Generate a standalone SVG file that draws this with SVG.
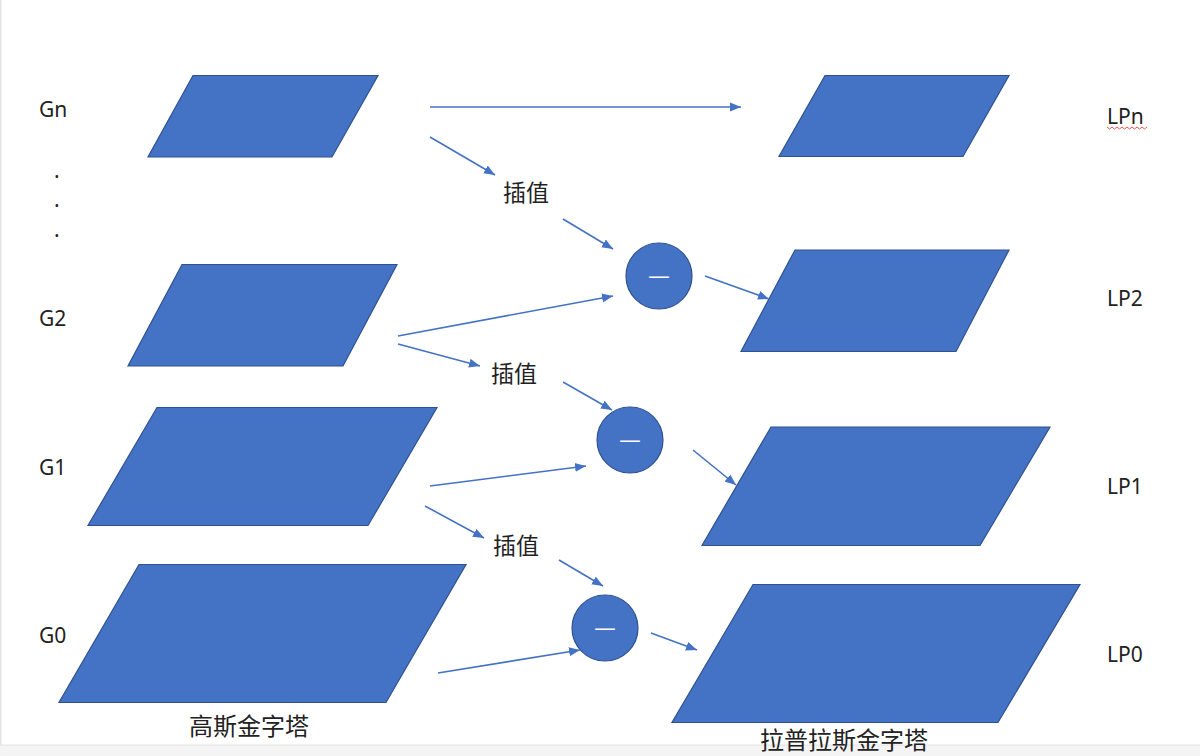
<svg xmlns="http://www.w3.org/2000/svg" width="1200" height="756" viewBox="0 0 1200 756">
  <style>
    .shape { fill: #4472C4; stroke: #2F528F; stroke-width: 1.2; }
    .lbl { font-family: "Noto Sans", "Liberation Sans", "Noto Sans CJK SC", sans-serif; font-size: 21px; fill: #222; }
    .cjk { font-family: "Noto Sans CJK SC", "Noto Sans", sans-serif; font-size: 23px; fill: #222; }
    .title { font-family: "Noto Sans CJK SC", "Noto Sans", sans-serif; font-size: 24px; fill: #222; }
    .minus { font-family: "Noto Sans CJK SC", sans-serif; font-size: 24px; fill: #ffffff; text-anchor: middle; }
    .conn line { stroke: #4472C4; stroke-width: 1.6; marker-end: url(#arr); }
  </style>
  <defs>
    <marker id="arr" markerUnits="userSpaceOnUse" markerWidth="12" markerHeight="10" refX="11" refY="5" orient="auto">
      <path d="M0,0.5 L11,5 L0,9.5 Z" fill="#4472C4"/>
    </marker>
  </defs>
  <rect x="0" y="0" width="1200" height="756" fill="#ffffff"/>
  <rect x="0" y="0" width="1.5" height="745" fill="#e4e4e4"/>
  <rect x="0" y="745" width="1200" height="11" fill="#f4f4f4"/>
  <line x1="0" y1="745" x2="1200" y2="745" stroke="#e2e2e2" stroke-width="1"/>

  <!-- Gaussian pyramid -->
  <g id="Gn"><polygon class="shape" points="193,75.5 378,75.5 332,157 148,157"/></g>
  <g id="G2"><polygon class="shape" points="182,264.5 397,264.5 343,366 128,366"/></g>
  <g id="G1"><polygon class="shape" points="157,407.5 437,407.5 368,525.5 88,525.5"/></g>
  <g id="G0"><polygon class="shape" points="139,564.5 466,564.5 386,702.5 59,702.5"/></g>

  <!-- Laplacian pyramid -->
  <g id="LPn"><polygon class="shape" points="825,75.5 1009,75.5 963,156.5 779,156.5"/></g>
  <g id="LP2"><polygon class="shape" points="795,250 1009,250 956,351.5 741,351.5"/></g>
  <g id="LP1"><polygon class="shape" points="771,427 1050,427 980,545.5 702,545.5"/></g>
  <g id="LP0"><polygon class="shape" points="753,584.5 1080,584.5 998,722.5 672,722.5"/></g>

  <!-- subtraction nodes -->
  <g id="sub1"><circle class="shape" cx="659" cy="276" r="33"/><text class="minus" x="659" y="284" textLength="22" lengthAdjust="spacingAndGlyphs">—</text></g>
  <g id="sub2"><circle class="shape" cx="630" cy="440" r="33"/><text class="minus" x="630" y="448" textLength="22" lengthAdjust="spacingAndGlyphs">—</text></g>
  <g id="sub3"><circle class="shape" cx="605" cy="628" r="33"/><text class="minus" x="605" y="636" textLength="22" lengthAdjust="spacingAndGlyphs">—</text></g>

  <!-- interpolation labels -->
  <g id="interp1"><text class="cjk" x="503" y="201">插值</text></g>
  <g id="interp2"><text class="cjk" x="491" y="382">插值</text></g>
  <g id="interp3"><text class="cjk" x="493" y="554">插值</text></g>

  <!-- connectors -->
  <g class="conn" id="connectors">
    <line x1="430" y1="107" x2="741" y2="107"/>
    <line x1="430" y1="137" x2="495" y2="175"/>
    <line x1="563" y1="219" x2="613" y2="249"/>
    <line x1="398" y1="336" x2="613" y2="296"/>
    <line x1="705" y1="276" x2="769" y2="299"/>
    <line x1="398" y1="344" x2="480" y2="366"/>
    <line x1="563" y1="382" x2="612" y2="410"/>
    <line x1="430" y1="486" x2="586" y2="466"/>
    <line x1="693" y1="450" x2="736" y2="485"/>
    <line x1="425" y1="506" x2="484" y2="538"/>
    <line x1="559" y1="560" x2="603" y2="586"/>
    <line x1="438" y1="673" x2="580" y2="650"/>
    <line x1="651" y1="633" x2="697" y2="650"/>
  </g>

  <!-- side labels -->
  <g id="labels">
    <text class="lbl" x="39" y="117">Gn</text>
    <text class="lbl" x="54" y="178">.</text>
    <text class="lbl" x="54" y="207">.</text>
    <text class="lbl" x="54" y="237">.</text>
    <text class="lbl" x="39" y="326">G2</text>
    <text class="lbl" x="39" y="475">G1</text>
    <text class="lbl" x="39" y="643">G0</text>
    <text class="lbl" x="1107" y="124">LPn</text>
    <path d="M1107,127 l2.5,2 l2.5,-2 l2.5,2 l2.5,-2 l2.5,2 l2.5,-2 l2.5,2 l2.5,-2 l2.5,2 l2.5,-2 l2.5,2 l2.5,-2 l2.5,2 l2.5,-2 l2.5,2 l2.5,-2" fill="none" stroke="#f05050" stroke-width="1"/>
    <text class="lbl" x="1107" y="306">LP2</text>
    <text class="lbl" x="1107" y="494">LP1</text>
    <text class="lbl" x="1107" y="662">LP0</text>
    <text class="title" x="189" y="735">高斯金字塔</text>
    <text class="title" x="760" y="749">拉普拉斯金字塔</text>
  </g>
</svg>
